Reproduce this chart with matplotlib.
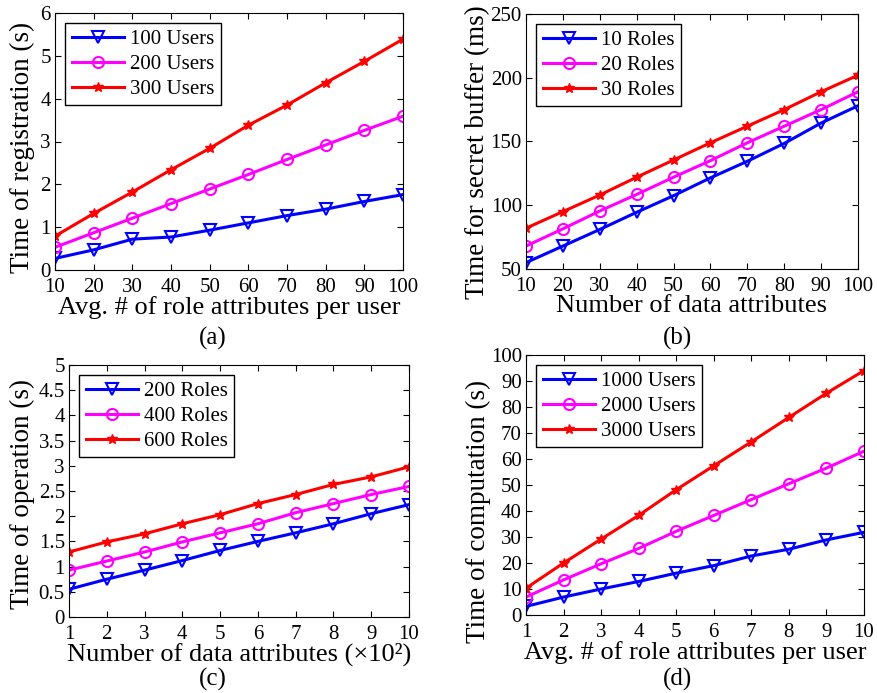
import numpy as np
import matplotlib
matplotlib.use("Agg")
import matplotlib.pyplot as plt

plt.rcParams['font.family'] = ['Liberation Serif', 'DejaVu Serif']

# (a) registration
x_a = [10, 20, 30, 40, 50, 60, 70, 80, 90, 100]
users100 = [0.27, 0.47, 0.72, 0.77, 0.93, 1.10, 1.27, 1.42, 1.60, 1.76]
users200 = [0.53, 0.87, 1.21, 1.55, 1.89, 2.23, 2.58, 2.92, 3.26, 3.59]
users300 = [0.79, 1.32, 1.82, 2.34, 2.84, 3.38, 3.85, 4.37, 4.87, 5.39]

# (b) secret buffer
x_b = [10, 20, 30, 40, 50, 60, 70, 80, 90, 100]
roles10 = [55, 68, 81, 94.5, 107.5, 121.5, 134.5, 148.5, 164.5, 178]
roles20 = [68, 81.5, 95.5, 108.5, 122, 135, 149, 162, 175, 189]
roles30 = [82, 95, 108, 122, 135.5, 149, 162, 175, 189, 202]

# (c) operation
x_c = [1, 2, 3, 4, 5, 6, 7, 8, 9, 10]
roles200 = [0.55, 0.75, 0.93, 1.12, 1.32, 1.50, 1.67, 1.85, 2.05, 2.23]
roles400 = [0.93, 1.11, 1.29, 1.49, 1.67, 1.85, 2.07, 2.25, 2.43, 2.59]
roles600 = [1.29, 1.49, 1.65, 1.85, 2.03, 2.25, 2.43, 2.63, 2.78, 2.98]

# (d) computation
x_d = [1, 2, 3, 4, 5, 6, 7, 8, 9, 10]
users1000 = [3.3, 6.9, 10.0, 12.9, 16.1, 19.0, 22.7, 25.3, 28.9, 31.8]
users2000 = [6.9, 13.5, 19.7, 25.6, 32.2, 38.3, 44.4, 50.5, 56.5, 63.0]
users3000 = [10.3, 20.0, 29.2, 38.3, 48.2, 57.4, 66.6, 76.0, 85.3, 94.0]

colors = ['#0000ff', '#ff00ff', '#ff0000']
markers = ['v', 'o', '*']

fig = plt.figure(figsize=(8.77, 6.93), dpi=100)
W, H = 877.0, 693.0

def make_ax(l, t, r, b):
    return fig.add_axes([l / W, 1 - b / H, (r - l) / W, (b - t) / H])

def draw(ax, x, series, labels, xlabel, ylabel, ylim, yticks, caption, cap_xy, ylab_xy):
    for y, lab, c, m in zip(series, labels, colors, markers):
        if m == '*':
            ax.plot(x, y, color=c, lw=2.2, marker=m, ms=7, mfc=c, mec=c, label=lab)
        elif m == 'v':
            ax.plot(x, y, color=c, lw=2.2, marker=m, ms=9, mfc='none', mec=c, mew=1.5, label=lab)
        else:
            ax.plot(x, y, color=c, lw=2.2, marker=m, ms=8, mfc='none', mec=c, mew=1.5, label=lab)
    ax.set_xlim(x[0], x[-1])
    ax.set_xticks(x)
    ax.set_ylim(*ylim)
    ax.set_yticks(yticks)
    ax.set_yticklabels(['%g' % v for v in yticks])
    ax.tick_params(direction='in', top=True, right=True, labelsize=15, length=4)
    ax.tick_params(axis='x', pad=6)
    ax.tick_params(axis='y', pad=3)
    ax.set_xlabel(xlabel, fontsize=19, labelpad=-1)
    ax.set_ylabel(ylabel, fontsize=19.5, va='center')
    ax.yaxis.set_label_coords(*ylab_xy)
    leg = ax.legend(loc='upper left', fontsize=15, fancybox=False, edgecolor='black',
                    handlelength=2.5, borderpad=0.3, labelspacing=0.25, handletextpad=0.3,
                    framealpha=1)
    leg.get_frame().set_linewidth(1.0)
    fig.text(cap_xy[0] / W, 1 - cap_xy[1] / H, caption, ha='center', va='center', fontsize=18)

ax_a = make_ax(55, 13, 403, 270)
draw(ax_a, x_a, [users100, users200, users300], ['100 Users', '200 Users', '300 Users'],
     'Avg. # of role attributes per user', 'Time of registration (s)',
     (0, 6), [0, 1, 2, 3, 4, 5, 6], '(a)', (213, 338), (-0.095, 0.475))

ax_b = make_ax(526, 14, 858, 269)
draw(ax_b, x_b, [roles10, roles20, roles30], ['10 Roles', '20 Roles', '30 Roles'],
     'Number of data attributes', 'Time for secret buffer (ms)',
     (50, 250), [50, 100, 150, 200, 250], '(b)', (678, 338), (-0.147, 0.46))

ax_c = make_ax(69, 365, 409, 617)
draw(ax_c, x_c, [roles200, roles400, roles600], ['200 Roles', '400 Roles', '600 Roles'],
     'Number of data attributes (\u00d710\u00b2)', 'Time of operation (s)',
     (0, 5), [0, 0.5, 1, 1.5, 2, 2.5, 3, 3.5, 4, 4.5, 5], '(c)', (213, 679), (-0.138, 0.488))

ax_d = make_ax(526, 355, 864, 615)
draw(ax_d, x_d, [users1000, users2000, users3000], ['1000 Users', '2000 Users', '3000 Users'],
     'Avg. # of role attributes per user', 'Time of computation (s)',
     (0, 100), list(range(0, 101, 10)), '(d)', (678, 679), (-0.142, 0.40))

fig.savefig('out.png', dpi=100)
